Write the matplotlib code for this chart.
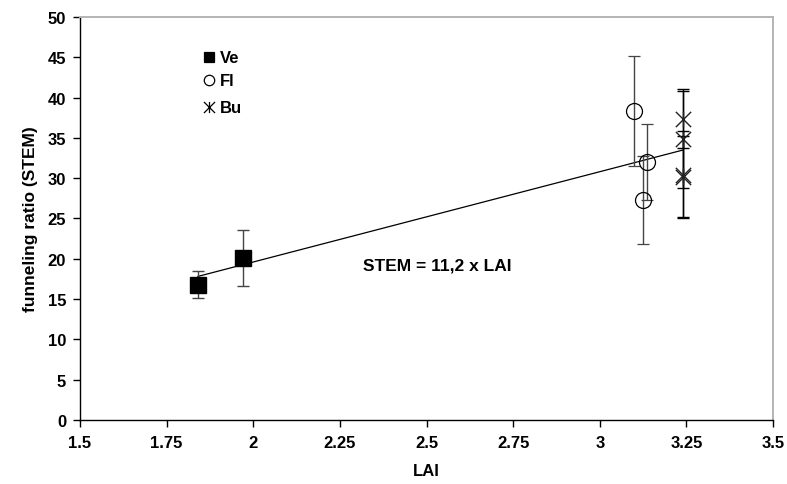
import matplotlib
matplotlib.use("Agg")
import matplotlib.pyplot as plt
import numpy as np
from matplotlib.path import Path

plt.rcParams["font.family"] = ["Liberation Sans", "DejaVu Sans"]
plt.rcParams["font.weight"] = "bold"

# vegetable (Ve), flax (Fl), bush (Bu) stands
ve_lai = [1.84, 1.97]
ve_stem = [16.8, 20.1]
ve_err = [1.7, 3.5]

fl_lai = [3.10, 3.135, 3.125]
fl_stem = [38.3, 32.0, 27.3]
fl_err = [6.8, 4.7, 5.5]

bu_lai = [3.24, 3.24, 3.24, 3.24]
bu_stem = [37.4, 34.8, 30.4, 30.2]
bu_err = [3.7, 6.0, 5.4, 5.0]

fit_slope = 11.2
fit_offset = -2.8
fit_range = [1.84, 3.24]

x_ticks = [1.5, 1.75, 2, 2.25, 2.5, 2.75, 3, 3.25, 3.5]
x_labels = ["1.5", "1.75", "2", "2.25", "2.5", "2.75", "3", "3.25", "3.5"]
y_ticks = list(range(0, 51, 5))

# excel-style star: an x with a vertical stroke
star = Path([(-1, -1), (1, 1), (-1, 1), (1, -1), (0, -1), (0, 1)],
            [Path.MOVETO, Path.LINETO, Path.MOVETO, Path.LINETO, Path.MOVETO, Path.LINETO])

fig = plt.figure(figsize=(7.87, 4.85), dpi=100)
ax = fig.add_axes([0.1017, 0.132, 0.8805, 0.831])

fit_x = np.array(fit_range)
ax.plot(fit_x, fit_slope * fit_x + fit_offset, color="black", lw=0.9, zorder=2)

ebar = dict(ls="none", ecolor="#444444", elinewidth=1.0, capsize=4, capthick=1.0)
ax.errorbar(ve_lai, ve_stem, yerr=ve_err, marker="s", ms=11, mfc="black", mec="black", zorder=3, **ebar)
ax.errorbar(fl_lai, fl_stem, yerr=fl_err, marker="o", ms=11.5, mfc="none", mec="black", mew=0.9, zorder=3, **ebar)
ax.errorbar(bu_lai, bu_stem, yerr=bu_err, marker=star, ms=11, mfc="none", mec="#222222", mew=1.0, zorder=3,
            ls="none", ecolor="black", elinewidth=1.0, capsize=4, capthick=1.0)

ax.text(2.53, 19.2, "STEM = 11,2 x LAI", ha="center", va="center", fontsize=12.5, fontweight="bold")

# legend drawn by hand next to the top left corner
leg_x, leg_tx = 0.186, 0.202
for y, mk, size, fill, label in [(0.900, "s", 7, "black", "Ve"), (0.843, "o", 7.5, "none", "Fl"),
                                 (0.776, star, 8, "none", "Bu")]:
    ax.plot([leg_x], [y], marker=mk, ms=size, mfc=fill, mec="black", mew=0.9,
            transform=ax.transAxes, clip_on=False)
    ax.text(leg_tx, y, label, transform=ax.transAxes, va="center", ha="left",
            fontsize=12, fontweight="bold")

ax.set_xlim(1.5, 3.5)
ax.set_ylim(0, 50)
ax.set_xticks(x_ticks)
ax.set_xticklabels(x_labels)
ax.set_yticks(y_ticks)
ax.tick_params(direction="out", length=5, width=1, labelsize=12)
ax.tick_params(axis="x", pad=6)
ax.tick_params(axis="y", pad=5)
for lbl in ax.get_xticklabels() + ax.get_yticklabels():
    lbl.set_fontweight("bold")

ax.set_xlabel("LAI", fontsize=12, fontweight="bold", labelpad=9)
ax.set_ylabel("funneling ratio (STEM)", fontsize=12.5, fontweight="bold", labelpad=7)

for side in ["top", "right"]:
    ax.spines[side].set_color("#b4b4b4")
    ax.spines[side].set_linewidth(1.4)
for side in ["left", "bottom"]:
    ax.spines[side].set_color("black")
    ax.spines[side].set_linewidth(1.0)

fig.savefig("out.png", dpi=100)
